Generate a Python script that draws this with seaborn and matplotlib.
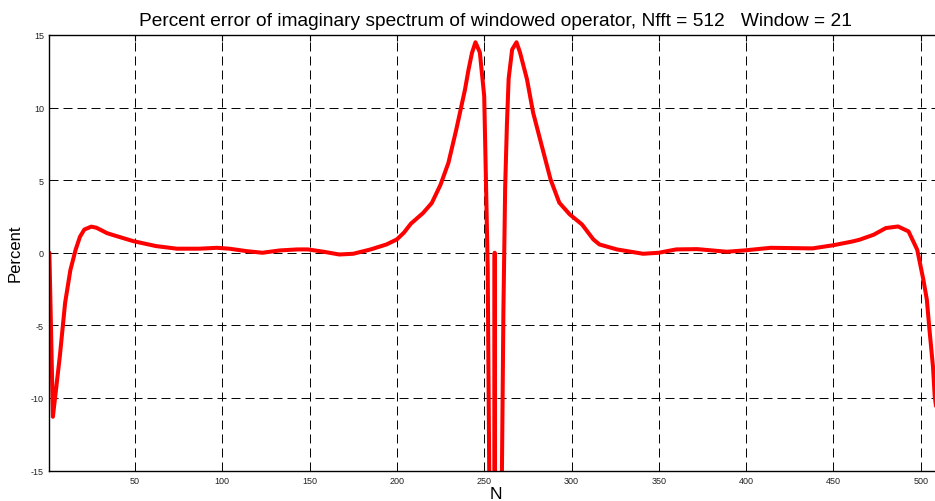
import matplotlib
matplotlib.use("Agg")
import matplotlib.pyplot as plt
import seaborn as sns
import pandas as pd

n_vals = [1, 2, 3, 5, 7, 10, 13, 16, 18.5, 21, 25, 28, 34, 38, 49, 62, 74, 87, 97, 104,
          114, 123, 133, 143, 149, 158, 167, 175, 185, 194, 200, 204, 208, 215, 220, 225,
          229.5, 234, 239, 241, 243, 245, 247.5, 250, 251, 252, 253, 254, 255, 256, 257,
          259, 260, 261, 262, 263, 264, 266, 268.5, 270.5, 274.5, 278, 283, 288, 293, 299,
          306, 312.5, 316, 326, 341, 350, 360, 372, 389, 399, 414, 438, 450, 461, 465, 473,
          480, 487, 493, 498, 501.5, 503.5, 505, 507, 508, 509, 510, 511, 512]
pct_vals = [0, -5.7, -11.3, -9.2, -7.1, -3.45, -1.2, 0.2, 1.1, 1.6, 1.8, 1.72, 1.35, 1.2,
            0.8, 0.46, 0.28, 0.28, 0.34, 0.28, 0.11, 0.0, 0.16, 0.23, 0.23, 0.07, -0.12,
            -0.07, 0.23, 0.57, 0.92, 1.38, 2.0, 2.74, 3.43, 4.69, 6.19, 8.48, 11.24, 12.6,
            13.77, 14.5, 13.8, 10.8, 5.0, -1.0, -17, -60, -300, 0, -300, -60, -17, -4, 4.5,
            8.8, 12.0, 14.0, 14.5, 13.8, 11.95, 9.66, 7.35, 5.05, 3.45, 2.64, 1.95, 0.92,
            0.57, 0.23, -0.07, 0.0, 0.23, 0.25, 0.07, 0.16, 0.34, 0.3, 0.52, 0.78, 0.9,
            1.24, 1.7, 1.81, 1.47, 0.2, -1.86, -3.24, -5.31, -7.84, -9.9, -10.8, -11.3,
            -5.7, 0]

x_ticks = [50, 100, 150, 200, 250, 300, 350, 400, 450, 500]
y_ticks = [-15, -10, -5, 0, 5, 10, 15]

title = "Percent error of imaginary spectrum of windowed operator, Nfft = 512   Window = 21"

sns.set_style("white")
plt.rcParams['font.family'] = ['Liberation Sans', 'DejaVu Sans']
plt.rcParams['axes.unicode_minus'] = False
plt.rcParams['text.color'] = 'black'
plt.rcParams['axes.labelcolor'] = 'black'

df = pd.DataFrame({"N": n_vals, "Percent": pct_vals})

fig = plt.figure(figsize=(9.35, 5.02), dpi=100)
W, H = 935, 502
left, right, top, bottom = 49.4, 941.7, 36, 471.5
ax = fig.add_axes([left / W, (H - bottom) / H, (right - left) / W, (bottom - top) / H])

sns.lineplot(data=df, x="N", y="Percent", ax=ax, color="#ff0000", linewidth=2.9,
             estimator=None, sort=False)

ax.set_xlim(1, 512)
ax.set_ylim(-15, 15)
ax.set_xticks(x_ticks)
ax.set_yticks(y_ticks)
ax.tick_params(axis="both", direction="in", length=4, width=0.8, labelsize=6.5,
               top=True, right=True, colors="black", labelcolor="#222222", pad=4)
ax.grid(True, color="black", linewidth=0.7, linestyle=(0, (9.3, 5.1)))
for s in ax.spines.values():
    s.set_color("black")
    s.set_linewidth(1.0)
ax.set_xlabel("N", fontsize=12.5, labelpad=0.5)
ax.set_ylabel("Percent", fontsize=12, labelpad=6)
ax.set_title(title, fontsize=13.8, pad=7, color="black")

fig.savefig("out.png", dpi=100)
